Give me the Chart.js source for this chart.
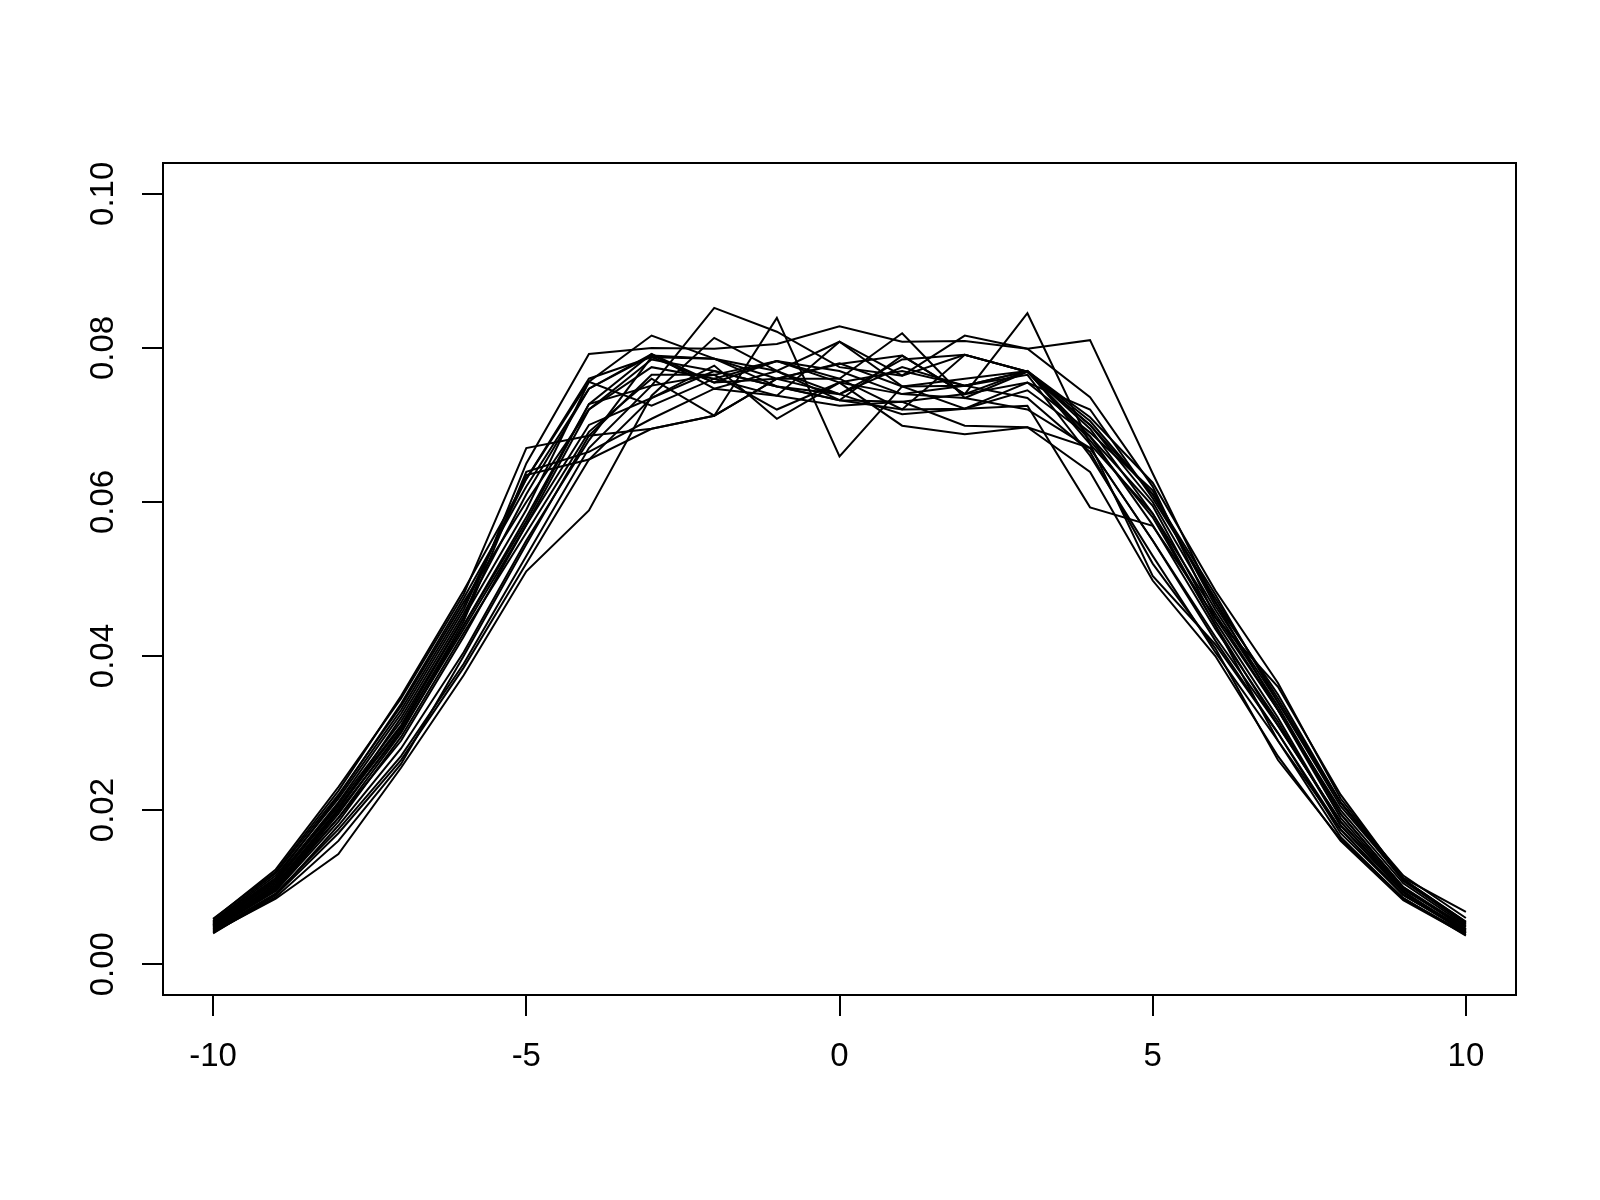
<!DOCTYPE html>
<html>
<head>
<meta charset="utf-8">
<script src="https://cdn.jsdelivr.net/npm/chart.js@4.4.1/dist/chart.umd.min.js"></script>
<style>
  html, body { margin: 0; padding: 0; background: #fff; }
  #wrap { width: 1600px; height: 1200px; }
</style>
</head>
<body>
<div id="wrap"><canvas id="plot" width="1600" height="1200"></canvas></div>
<script>
// x positions
const xValues = [-10, -9, -8, -7, -6, -5, -4, -3, -2, -1, 0, 1, 2, 3, 4, 5, 6, 7, 8, 9, 10];

// tick labels
const xTicks = [-10, -5, 0, 5, 10];
const yTicks = [0, 0.02, 0.04, 0.06, 0.08, 0.10];

// series values
const s01 = [0.0052, 0.0108, 0.0205, 0.0310, 0.0450, 0.0650, 0.0792, 0.0800, 0.0799, 0.0805, 0.0828, 0.0808, 0.0809, 0.0799, 0.0810, 0.0637, 0.0470, 0.0330, 0.0200, 0.0105, 0.0050];
const s02 = [0.0048, 0.0100, 0.0190, 0.0300, 0.0440, 0.0580, 0.0727, 0.0751, 0.0852, 0.0821, 0.0775, 0.0764, 0.0791, 0.0769, 0.0700, 0.0600, 0.0460, 0.0335, 0.0195, 0.0100, 0.0045];
const s03 = [0.0045, 0.0095, 0.0185, 0.0295, 0.0430, 0.0560, 0.0691, 0.0760, 0.0712, 0.0839, 0.0659, 0.0750, 0.0751, 0.0770, 0.0680, 0.0580, 0.0440, 0.0310, 0.0185, 0.0095, 0.0040];
const s04 = [0.0055, 0.0115, 0.0215, 0.0330, 0.0465, 0.0630, 0.0756, 0.0816, 0.0786, 0.0750, 0.0732, 0.0790, 0.0740, 0.0845, 0.0675, 0.0504, 0.0415, 0.0300, 0.0175, 0.0090, 0.0042];
const s05 = [0.0050, 0.0102, 0.0200, 0.0320, 0.0455, 0.0610, 0.0747, 0.0792, 0.0755, 0.0783, 0.0760, 0.0819, 0.0735, 0.0769, 0.0700, 0.0610, 0.0480, 0.0340, 0.0210, 0.0115, 0.0060];
const s06 = [0.0042, 0.0085, 0.0143, 0.0255, 0.0375, 0.0510, 0.0589, 0.0738, 0.0813, 0.0770, 0.0808, 0.0764, 0.0816, 0.0799, 0.0736, 0.0620, 0.0450, 0.0330, 0.0195, 0.0100, 0.0048];
const s07 = [0.0058, 0.0123, 0.0230, 0.0345, 0.0480, 0.0670, 0.0686, 0.0695, 0.0712, 0.0760, 0.0740, 0.0714, 0.0721, 0.0725, 0.0593, 0.0569, 0.0450, 0.0360, 0.0220, 0.0110, 0.0055];
const s08 = [0.0046, 0.0098, 0.0195, 0.0305, 0.0445, 0.0639, 0.0665, 0.0708, 0.0747, 0.0738, 0.0725, 0.0730, 0.0699, 0.0697, 0.0670, 0.0550, 0.0420, 0.0300, 0.0170, 0.0090, 0.0045];
const s09 = [0.0053, 0.0110, 0.0210, 0.0325, 0.0460, 0.0635, 0.0655, 0.0735, 0.0777, 0.0708, 0.0755, 0.0740, 0.0751, 0.0765, 0.0660, 0.0530, 0.0405, 0.0290, 0.0165, 0.0085, 0.0040];
const s10 = [0.0040, 0.0090, 0.0180, 0.0280, 0.0405, 0.0550, 0.0680, 0.0788, 0.0786, 0.0760, 0.0779, 0.0790, 0.0740, 0.0755, 0.0690, 0.0615, 0.0465, 0.0340, 0.0205, 0.0110, 0.0052];
const s11 = [0.0056, 0.0118, 0.0220, 0.0335, 0.0470, 0.0600, 0.0720, 0.0785, 0.0770, 0.0750, 0.0732, 0.0720, 0.0791, 0.0769, 0.0695, 0.0585, 0.0455, 0.0330, 0.0190, 0.0098, 0.0046];
const s12 = [0.0044, 0.0092, 0.0175, 0.0270, 0.0390, 0.0530, 0.0670, 0.0751, 0.0765, 0.0783, 0.0755, 0.0699, 0.0688, 0.0697, 0.0639, 0.0498, 0.0400, 0.0270, 0.0160, 0.0083, 0.0038];
const s13 = [0.0051, 0.0106, 0.0208, 0.0315, 0.0450, 0.0590, 0.0756, 0.0725, 0.0760, 0.0738, 0.0808, 0.0750, 0.0721, 0.0755, 0.0720, 0.0605, 0.0475, 0.0345, 0.0210, 0.0110, 0.0055];
const s14 = [0.0049, 0.0104, 0.0202, 0.0308, 0.0440, 0.0575, 0.0727, 0.0792, 0.0747, 0.0770, 0.0740, 0.0775, 0.0751, 0.0770, 0.0710, 0.0625, 0.0485, 0.0365, 0.0215, 0.0112, 0.0068];
const s15 = [0.0043, 0.0090, 0.0170, 0.0265, 0.0385, 0.0520, 0.0655, 0.0695, 0.0712, 0.0760, 0.0760, 0.0720, 0.0721, 0.0745, 0.0685, 0.0595, 0.0445, 0.0320, 0.0180, 0.0093, 0.0041];
const s16 = [0.0054, 0.0112, 0.0218, 0.0338, 0.0475, 0.0620, 0.0747, 0.0790, 0.0786, 0.0770, 0.0732, 0.0730, 0.0740, 0.0770, 0.0705, 0.0610, 0.0470, 0.0350, 0.0210, 0.0108, 0.0053];
const s17 = [0.0047, 0.0096, 0.0190, 0.0290, 0.0425, 0.0570, 0.0700, 0.0735, 0.0770, 0.0750, 0.0740, 0.0785, 0.0791, 0.0769, 0.0685, 0.0570, 0.0435, 0.0315, 0.0180, 0.0094, 0.0044];
const s18 = [0.0059, 0.0120, 0.0225, 0.0348, 0.0485, 0.0630, 0.0760, 0.0788, 0.0755, 0.0760, 0.0780, 0.0750, 0.0760, 0.0770, 0.0675, 0.0585, 0.0440, 0.0290, 0.0175, 0.0090, 0.0043];
const s19 = [0.0041, 0.0087, 0.0160, 0.0260, 0.0400, 0.0545, 0.0686, 0.0765, 0.0765, 0.0720, 0.0755, 0.0770, 0.0751, 0.0735, 0.0665, 0.0520, 0.0410, 0.0265, 0.0162, 0.0086, 0.0037];
const s20 = [0.0050, 0.0100, 0.0198, 0.0302, 0.0435, 0.0570, 0.0720, 0.0775, 0.0760, 0.0783, 0.0770, 0.0740, 0.0735, 0.0720, 0.0670, 0.0550, 0.0425, 0.0310, 0.0185, 0.0097, 0.0049];

const allSeries = [s01, s02, s03, s04, s05, s06, s07, s08, s09, s10,
                   s11, s12, s13, s14, s15, s16, s17, s18, s19, s20];

const FONT = '33px "Liberation Sans", Arial, sans-serif';

// box around the plot region, like R's box()
const boxPlugin = {
    id: 'box',
    afterDraw(chart) {
        const { ctx, chartArea: a } = chart;
        ctx.save();
        ctx.strokeStyle = '#000';
        ctx.lineWidth = 2;
        ctx.strokeRect(a.left, a.top, a.right - a.left, a.bottom - a.top);
        ctx.restore();
    }
};

// tick labels placed as R places them (y labels rotated)
const labelPlugin = {
    id: 'rlabels',
    afterDraw(chart) {
        const ctx = chart.ctx;
        const xs = chart.scales.x, ys = chart.scales.y;
        ctx.save();
        ctx.fillStyle = '#000';
        ctx.font = FONT;
        ctx.textAlign = 'center';
        ctx.textBaseline = 'middle';
        xTicks.forEach(v => {
            ctx.fillText(String(v), xs.getPixelForValue(v), 1057);
        });
        yTicks.forEach(v => {
            ctx.save();
            ctx.translate(104, ys.getPixelForValue(v));
            ctx.rotate(-Math.PI / 2);
            ctx.fillText(v.toFixed(2), 0, 0);
            ctx.restore();
        });
        ctx.restore();
    }
};

const datasets = allSeries.map((s, i) => ({
    label: 'series ' + (i + 1),
    data: xValues.map((x, j) => ({ x: x, y: s[j] })),
    borderColor: '#000',
    borderWidth: 2,
    pointRadius: 0,
    tension: 0,
    fill: false
}));

new Chart(document.getElementById('plot'), {
    type: 'line',
    data: { datasets },
    options: {
        responsive: false,
        animation: false,
        layout: { padding: { top: 163, right: 84, left: 0, bottom: 0 } },
        plugins: { legend: { display: false }, tooltip: { enabled: false } },
        scales: {
            x: {
                type: 'linear',
                min: -10.8,
                max: 10.8,
                afterBuildTicks: scale => { scale.ticks = xTicks.map(v => ({ value: v })); },
                afterFit: scale => { scale.height = 205; },
                ticks: { display: false },
                border: { display: false },
                grid: { drawOnChartArea: false, drawTicks: true, tickLength: 21, color: '#000', lineWidth: 2 }
            },
            y: {
                type: 'linear',
                min: -0.004,
                max: 0.104,
                afterBuildTicks: scale => { scale.ticks = yTicks.map(v => ({ value: v })); },
                afterFit: scale => { scale.width = 163; },
                ticks: { display: false },
                border: { display: false },
                grid: { drawOnChartArea: false, drawTicks: true, tickLength: 21, color: '#000', lineWidth: 2 }
            }
        }
    },
    plugins: [boxPlugin, labelPlugin]
});
</script>
</body>
</html>
